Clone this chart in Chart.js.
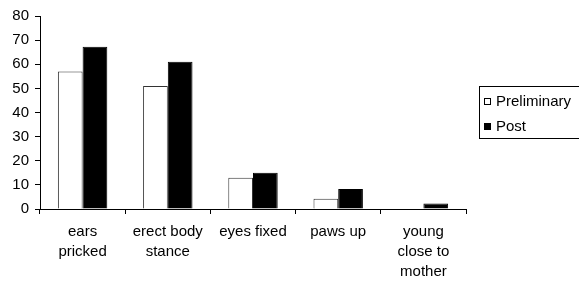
<!DOCTYPE html>
<html>
<head>
<meta charset="utf-8">
<script src="https://cdn.jsdelivr.net/npm/chart.js@4/dist/chart.umd.min.js"></script>
<style>
  html, body { margin: 0; padding: 0; background: #fff; }
  #wrap { width: 579px; height: 282px; }
</style>
</head>
<body>
<div id="wrap"><canvas id="chart" width="579" height="282"></canvas></div>
<script>
// --- data ---
const categories = [
  ['ears', 'pricked'],
  ['erect body', 'stance'],
  ['eyes fixed'],
  ['paws up'],
  ['young', 'close to', 'mother']
];
const preliminary = [57, 51, 13, 4.3, 0];
const post = [67.3, 61, 15, 8.3, 2.3];
const yTicks = [0, 10, 20, 30, 40, 50, 60, 70, 80];

const FONT = 'Liberation Sans, Arial, sans-serif';

// boxed legend on the right, like the original
const boxLegend = {
  id: 'boxLegend',
  afterDraw(chart) {
    const ctx = chart.ctx;
    const x0 = chart.chartArea.right + 13;
    const y0 = 86;
    ctx.save();
    ctx.strokeStyle = '#000';
    ctx.lineWidth = 1;
    ctx.strokeRect(x0 + 0.5, y0 + 0.5, 120, 52);
    ctx.font = '15px ' + FONT;
    ctx.textBaseline = 'middle';
    chart.data.datasets.forEach((ds, i) => {
      const cy = y0 + 15 + i * 25;
      ctx.fillStyle = ds.backgroundColor;
      ctx.fillRect(x0 + 5, cy - 3, 7, 7);
      ctx.strokeStyle = '#000';
      ctx.strokeRect(x0 + 5.5, cy - 2.5, 6, 6);
      ctx.fillStyle = '#000';
      ctx.fillText(ds.label, x0 + 17, cy + 1);
    });
    ctx.restore();
  }
};

new Chart(document.getElementById('chart'), {
  type: 'bar',
  data: {
    labels: categories,
    datasets: [
      {
        label: 'Preliminary',
        data: preliminary,
        backgroundColor: '#fff',
        borderColor: '#333',
        borderWidth: 1
      },
      {
        label: 'Post',
        data: post,
        backgroundColor: '#000',
        borderColor: '#000',
        borderWidth: 1
      }
    ]
  },
  options: {
    responsive: false,
    animation: false,
    layout: { padding: { top: 16, right: 113, left: 0, bottom: 0 } },
    plugins: {
      legend: { display: false },
      tooltip: { enabled: false }
    },
    datasets: {
      bar: { categoryPercentage: 0.58, barPercentage: 1.0 }
    },
    scales: {
      x: {
        grid: {
          drawOnChartArea: false,
          tickLength: 5,
          color: '#000',
          offset: true
        },
        border: { color: '#000' },
        ticks: {
          color: '#000',
          font: { family: FONT, size: 15, lineHeight: 1.33 },
          padding: 8,
          maxRotation: 0,
          autoSkip: false
        },
        afterFit(scale) { scale.height = 73; }
      },
      y: {
        min: 0,
        max: 80,
        afterBuildTicks(scale) { scale.ticks = yTicks.map(v => ({ value: v })); },
        grid: {
          drawOnChartArea: false,
          tickLength: 5,
          color: '#000'
        },
        border: { color: '#000' },
        ticks: {
          color: '#000',
          font: { family: FONT, size: 15 },
          padding: 6
        },
        afterFit(scale) { scale.width = 40; }
      }
    }
  },
  plugins: [boxLegend]
});
</script>
</body>
</html>
